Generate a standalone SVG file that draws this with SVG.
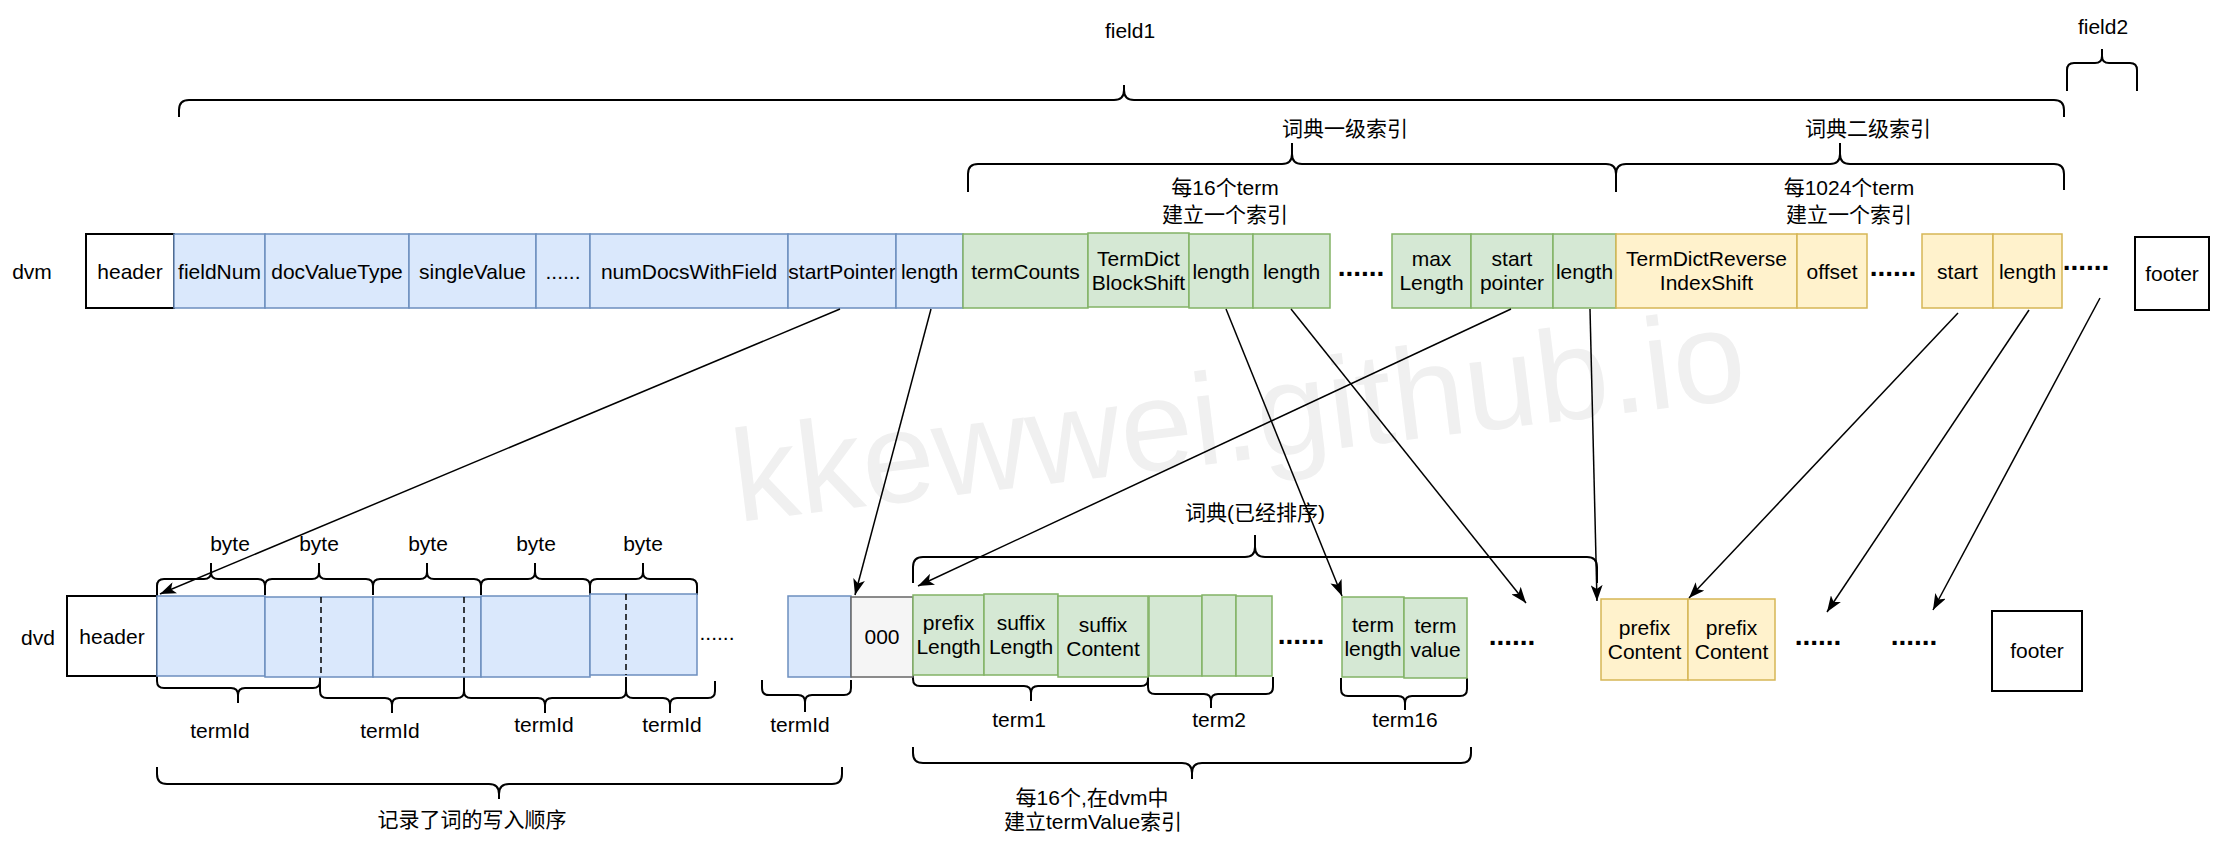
<svg xmlns="http://www.w3.org/2000/svg" width="2240" height="850" viewBox="0 0 2240 850">
<style>
.t{font-family:"Liberation Sans",Arial,"Noto Sans CJK SC",sans-serif;font-size:21px;fill:#000;text-anchor:middle}
.dots{font-family:"Liberation Sans",Arial,sans-serif;font-size:28px;font-weight:bold;fill:#000;text-anchor:middle}
.wm{font-family:"Liberation Sans",Arial,sans-serif;font-size:130px;fill:#f0f0f0}
.blue{fill:#dae8fc;stroke:#6c8ebf;stroke-width:1.5}
.green{fill:#d5e8d4;stroke:#82b366;stroke-width:1.5}
.yellow{fill:#fff2cc;stroke:#d6b656;stroke-width:1.5}
.gray{fill:#f5f5f5;stroke:#666666;stroke-width:1.5}
.plain{fill:#ffffff;stroke:#000000;stroke-width:2}
.brace{fill:none;stroke:#000;stroke-width:2}
.dash{stroke:#000;stroke-width:1.5;stroke-dasharray:6 4}
.edge{fill:none;stroke:#000;stroke-width:1.5;marker-end:url(#arr)}
</style>
<defs>
<marker id="arr" markerUnits="userSpaceOnUse" viewBox="0 0 16 12" markerWidth="16" markerHeight="12" refX="16" refY="6" orient="auto">
<path d="M0,0 L16,6 L0,12 L4,6 Z" fill="#000"/>
</marker>
</defs>
<rect width="2240" height="850" fill="#fff"/>
<text class="wm" x="738" y="522" transform="rotate(-7 738 522)">kkewwei.github.io</text>

<g id="labels">
<text class="t" x="32" y="279">dvm</text>
<text class="t" x="38" y="645">dvd</text>
<text class="t" x="1130" y="38">field1</text>
<text class="t" x="2103" y="34">field2</text>
<text class="t" x="1345" y="136">词典一级索引</text>
<text class="t" x="1868" y="136">词典二级索引</text>
<text class="t" x="1225" y="195">每16个term</text>
<text class="t" x="1225" y="222">建立一个索引</text>
<text class="t" x="1849" y="195">每1024个term</text>
<text class="t" x="1849" y="222">建立一个索引</text>
<text class="t" x="230" y="551">byte</text>
<text class="t" x="319" y="551">byte</text>
<text class="t" x="428" y="551">byte</text>
<text class="t" x="536" y="551">byte</text>
<text class="t" x="643" y="551">byte</text>
<text class="t" x="220" y="738">termId</text>
<text class="t" x="390" y="738">termId</text>
<text class="t" x="544" y="732">termId</text>
<text class="t" x="672" y="732">termId</text>
<text class="t" x="800" y="732">termId</text>
<text class="t" x="472" y="827">记录了词的写入顺序</text>
<text class="t" x="1255" y="520">词典(已经排序)</text>
<text class="t" x="1019" y="727">term1</text>
<text class="t" x="1219" y="727">term2</text>
<text class="t" x="1405" y="727">term16</text>
<text class="t" x="1092" y="805">每16个,在dvm中</text>
<text class="t" x="1093" y="829">建立termValue索引</text>
</g>

<g id="braces">
<path class="brace" d="M179,117 L179,110 Q179,100 189,100 L1114,100 Q1124,100 1124,90 L1124,85 M1124,90 Q1124,100 1134,100 L2054,100 Q2064,100 2064,110 L2064,117"/>
<path class="brace" d="M2067,91 L2067,70 Q2067,63 2074,63 L2095,63 Q2102,63 2102,56 L2102,49 M2102,56 Q2102,63 2109,63 L2130,63 Q2137,63 2137,70 L2137,91"/>
<path class="brace" d="M968,192 L968,174 Q968,164 978,164 L1282,164 Q1292,164 1292,154 L1292,143 M1292,154 Q1292,164 1302,164 L1606,164 Q1616,164 1616,174 L1616,192"/>
<path class="brace" d="M1616,192 L1616,174 Q1616,164 1626,164 L1830,164 Q1840,164 1840,154 L1840,143 M1840,154 Q1840,164 1850,164 L2054,164 Q2064,164 2064,174 L2064,190"/>
<path class="brace" d="M157,595 L157,586 Q157,579 164,579 L204,579 Q211,579 211,572 L211,563 M211,572 Q211,579 218,579 L258,579 Q265,579 265,586 L265,595"/>
<path class="brace" d="M265,595 L265,586 Q265,579 272,579 L312,579 Q319,579 319,572 L319,563 M319,572 Q319,579 326,579 L366,579 Q373,579 373,586 L373,595"/>
<path class="brace" d="M373,595 L373,586 Q373,579 380,579 L420,579 Q427,579 427,572 L427,563 M427,572 Q427,579 434,579 L474,579 Q481,579 481,586 L481,595"/>
<path class="brace" d="M481,595 L481,586 Q481,579 488,579 L528,579 Q535,579 535,572 L535,563 M535,572 Q535,579 542,579 L583,579 Q590,579 590,586 L590,595"/>
<path class="brace" d="M590,595 L590,586 Q590,579 597,579 L636,579 Q643,579 643,572 L643,563 M643,572 Q643,579 650,579 L690,579 Q697,579 697,586 L697,595"/>
<path class="brace" d="M157,677 L157,681 Q157,688 164,688 L231,688 Q238,688 238,695 L238,703 M238,695 Q238,688 245,688 L313,688 Q320,688 320,681 L320,677"/>
<path class="brace" d="M320,677 L320,691 Q320,698 327,698 L385,698 Q392,698 392,705 L392,713 M392,705 Q392,698 399,698 L457,698 Q464,698 464,691 L464,677"/>
<path class="brace" d="M464,677 L464,691 Q464,698 471,698 L538,698 Q545,698 545,705 L545,713 M545,705 Q545,698 552,698 L619,698 Q626,698 626,691 L626,677"/>
<path class="brace" d="M626,677 L626,691 Q626,698 633,698 L663,698 Q670,698 670,705 L670,713 M670,705 Q670,698 677,698 L708,698 Q715,698 715,691 L715,681"/>
<path class="brace" d="M762,680 L762,688 Q762,695 769,695 L798,695 Q805,695 805,702 L805,712 M805,702 Q805,695 812,695 L844,695 Q851,695 851,688 L851,680"/>
<path class="brace" d="M157,767 L157,774 Q157,784 167,784 L489,784 Q499,784 499,794 L499,799 M499,794 Q499,784 509,784 L832,784 Q842,784 842,774 L842,767"/>
<path class="brace" d="M913,583 L913,567 Q913,557 923,557 L1245,557 Q1255,557 1255,547 L1255,535 M1255,547 Q1255,557 1265,557 L1587,557 Q1597,557 1597,567 L1597,583"/>
<path class="brace" d="M913,675 L913,679 Q913,686 920,686 L1024,686 Q1031,686 1031,693 L1031,701 M1031,693 Q1031,686 1038,686 L1141,686 Q1148,686 1148,679 L1148,675"/>
<path class="brace" d="M1148,677 L1148,687 Q1148,694 1155,694 L1204,694 Q1211,694 1211,701 L1211,708 M1211,701 Q1211,694 1218,694 L1266,694 Q1273,694 1273,687 L1273,677"/>
<path class="brace" d="M1341,678 L1341,689 Q1341,696 1348,696 L1398,696 Q1405,696 1405,703 L1405,710 M1405,703 Q1405,696 1412,696 L1460,696 Q1467,696 1467,689 L1467,678"/>
<path class="brace" d="M913,747 L913,753 Q913,763 923,763 L1182,763 Q1192,763 1192,773 L1192,779 M1192,773 Q1192,763 1202,763 L1461,763 Q1471,763 1471,753 L1471,747"/>
</g>

<g id="dvm-header"><rect class="plain" x="86" y="234" width="88" height="74"/><text class="t" x="130" y="279">header</text></g>
<g id="dvm-fieldNum"><rect class="blue" x="174" y="234" width="91" height="74"/><text class="t" x="219.5" y="279">fieldNum</text></g>
<g id="dvm-docValueType"><rect class="blue" x="265" y="234" width="144" height="74"/><text class="t" x="337" y="279">docValueType</text></g>
<g id="dvm-singleValue"><rect class="blue" x="409" y="234" width="127" height="74"/><text class="t" x="472.5" y="279">singleValue</text></g>
<g id="dvm-etc"><rect class="blue" x="536" y="234" width="54" height="74"/><text class="t" x="563" y="279">......</text></g>
<g id="dvm-numDocsWithField"><rect class="blue" x="590" y="234" width="198" height="74"/><text class="t" x="689" y="279">numDocsWithField</text></g>
<g id="dvm-startPointer"><rect class="blue" x="788" y="234" width="108" height="74"/><text class="t" x="842" y="279">startPointer</text></g>
<g id="dvm-length1"><rect class="blue" x="896" y="234" width="67" height="74"/><text class="t" x="929.5" y="279">length</text></g>
<g id="dvm-termCounts"><rect class="green" x="963" y="234" width="125" height="74"/><text class="t" x="1025.5" y="279">termCounts</text></g>
<g id="dvm-blockShift"><rect class="green" x="1088" y="233" width="101" height="74"/><text class="t" x="1138.5" y="266">TermDict</text><text class="t" x="1138.5" y="290">BlockShift</text></g>
<g id="dvm-length2"><rect class="green" x="1189" y="234" width="64" height="74"/><text class="t" x="1221" y="279">length</text></g>
<g id="dvm-length3"><rect class="green" x="1253" y="234" width="77" height="74"/><text class="t" x="1291.5" y="279">length</text></g>
<g id="dvm-dots1"><text class="dots" x="1361" y="276">......</text></g>
<g id="dvm-maxLength"><rect class="green" x="1392" y="234" width="79" height="74"/><text class="t" x="1431.5" y="266">max</text><text class="t" x="1431.5" y="290">Length</text></g>
<g id="dvm-startPointer2"><rect class="green" x="1471" y="234" width="82" height="74"/><text class="t" x="1512" y="266">start</text><text class="t" x="1512" y="290">pointer</text></g>
<g id="dvm-length4"><rect class="green" x="1553" y="234" width="63" height="74"/><text class="t" x="1584.5" y="279">length</text></g>
<g id="dvm-reverseShift"><rect class="yellow" x="1616" y="234" width="181" height="74"/><text class="t" x="1706.5" y="266">TermDictReverse</text><text class="t" x="1706.5" y="290">IndexShift</text></g>
<g id="dvm-offset"><rect class="yellow" x="1797" y="234" width="70" height="74"/><text class="t" x="1832" y="279">offset</text></g>
<g id="dvm-dots2"><text class="dots" x="1893" y="276">......</text></g>
<g id="dvm-start"><rect class="yellow" x="1922" y="234" width="71" height="74"/><text class="t" x="1957.5" y="279">start</text></g>
<g id="dvm-length5"><rect class="yellow" x="1993" y="234" width="69" height="74"/><text class="t" x="2027.5" y="279">length</text></g>
<g id="dvm-dots3"><text class="dots" x="2086" y="270">......</text></g>
<g id="dvm-footer"><rect class="plain" x="2135" y="237" width="74" height="73"/><text class="t" x="2172" y="281">footer</text></g>

<g id="dvd-header"><rect class="plain" x="67" y="596" width="90" height="80"/><text class="t" x="112" y="644">header</text></g>
<g id="dvd-byte1"><rect class="blue" x="157" y="596" width="108" height="80"/></g>
<g id="dvd-byte2"><rect class="blue" x="265" y="597" width="108" height="80"/><line class="dash" x1="321" y1="597" x2="321" y2="677"/></g>
<g id="dvd-byte3"><rect class="blue" x="373" y="597" width="108" height="80"/><line class="dash" x1="464" y1="597" x2="464" y2="677"/></g>
<g id="dvd-byte4"><rect class="blue" x="481" y="596" width="109" height="81"/></g>
<g id="dvd-byte5"><rect class="blue" x="590" y="594" width="107" height="81"/><line class="dash" x1="626" y1="594" x2="626" y2="675"/></g>
<g id="dvd-dots0"><text class="t" x="717" y="640">......</text></g>
<g id="dvd-lastTermId"><rect class="blue" x="788" y="596" width="63" height="81"/></g>
<g id="dvd-000"><rect class="gray" x="851" y="597" width="62" height="80"/><text class="t" x="882" y="644">000</text></g>
<g id="dvd-prefixLength"><rect class="green" x="913" y="595" width="71" height="80"/><text class="t" x="948.5" y="630">prefix</text><text class="t" x="948.5" y="654">Length</text></g>
<g id="dvd-suffixLength"><rect class="green" x="984" y="594" width="74" height="81"/><text class="t" x="1021" y="630">suffix</text><text class="t" x="1021" y="654">Length</text></g>
<g id="dvd-suffixContent"><rect class="green" x="1058" y="596" width="90" height="81"/><text class="t" x="1103" y="632">suffix</text><text class="t" x="1103" y="656">Content</text></g>
<g id="dvd-term2a"><rect class="green" x="1149" y="596" width="53" height="80"/></g>
<g id="dvd-term2b"><rect class="green" x="1202" y="595" width="34" height="81"/></g>
<g id="dvd-term2c"><rect class="green" x="1236" y="596" width="36" height="80"/></g>
<g id="dvd-dots1"><text class="dots" x="1301" y="644">......</text></g>
<g id="dvd-termLength"><rect class="green" x="1342" y="597" width="62" height="80"/><text class="t" x="1373" y="632">term</text><text class="t" x="1373" y="656">length</text></g>
<g id="dvd-termValue"><rect class="green" x="1404" y="598" width="63" height="80"/><text class="t" x="1435.5" y="633">term</text><text class="t" x="1435.5" y="657">value</text></g>
<g id="dvd-dots2"><text class="dots" x="1512" y="645">......</text></g>
<g id="dvd-prefixContent1"><rect class="yellow" x="1601" y="599" width="87" height="81"/><text class="t" x="1644.5" y="635">prefix</text><text class="t" x="1644.5" y="659">Content</text></g>
<g id="dvd-prefixContent2"><rect class="yellow" x="1688" y="599" width="87" height="81"/><text class="t" x="1731.5" y="635">prefix</text><text class="t" x="1731.5" y="659">Content</text></g>
<g id="dvd-dots3"><text class="dots" x="1818" y="645">......</text></g>
<g id="dvd-dots4"><text class="dots" x="1914" y="645">......</text></g>
<g id="dvd-footer"><rect class="plain" x="1992" y="611" width="90" height="80"/><text class="t" x="2037" y="658">footer</text></g>

<g id="connectors">
<line class="edge" x1="840" y1="309" x2="160" y2="594"/>
<line class="edge" x1="931" y1="309" x2="855" y2="595"/>
<line class="edge" x1="1511" y1="309" x2="918" y2="586"/>
<line class="edge" x1="1590" y1="309" x2="1597" y2="601"/>
<line class="edge" x1="1226" y1="309" x2="1342" y2="596"/>
<line class="edge" x1="1291" y1="309" x2="1526" y2="603"/>
<line class="edge" x1="1958" y1="313" x2="1689" y2="598"/>
<line class="edge" x1="2029" y1="310" x2="1827" y2="612"/>
<line class="edge" x1="2100" y1="298" x2="1933" y2="610"/>
</g>
</svg>
